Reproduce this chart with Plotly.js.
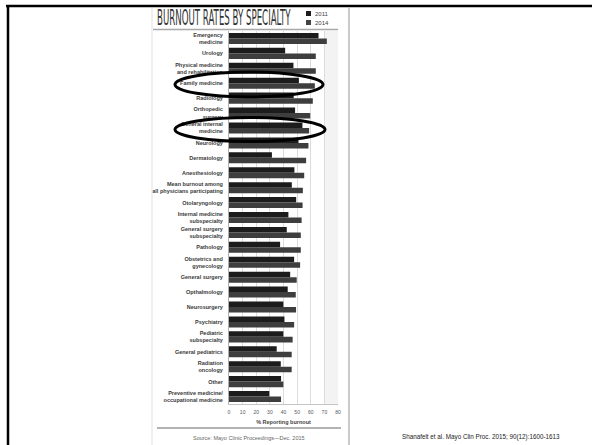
<!DOCTYPE html>
<html><head><meta charset="utf-8">
<script src="https://cdn.plot.ly/plotly-3.0.1.min.js"></script>
<style>html,body{margin:0;padding:0;background:#fff;overflow:hidden}#chart{width:592px;height:445px}</style>
</head><body><div id="chart"></div>
<script>
const categories = [
  "Emergency<br>medicine", "Urology", "Physical medicine<br>and rehabilitation", "Family medicine",
  "Radiology", "Orthopedic<br>surgery", "General internal<br>medicine", "Neurology", "Dermatology",
  "Anesthesiology", "Mean burnout among<br>all physicians participating", "Otolaryngology",
  "Internal medicine<br>subspecialty", "General surgery<br>subspecialty", "Pathology",
  "Obstetrics and<br>gynecology", "General surgery", "Opthalmology", "Neurosurgery", "Psychiatry",
  "Pediatric<br>subspecialty", "General pediatrics", "Radiation<br>oncology", "Other",
  "Preventive medicine/<br>occupational medicine"
];
const burnout2011 = [65.7, 41.2, 47.3, 51.3, 47.5, 48.5, 53.9, 51.0, 31.5, 48.0, 46.1, 49.3, 43.6, 42.4, 37.5, 47.8, 44.9, 43.1, 39.9, 40.7, 39.9, 35.0, 38.0, 38.2, 29.6];
const burnout2014 = [71.8, 63.7, 63.7, 63.0, 61.5, 59.6, 58.8, 58.3, 56.6, 55.2, 54.2, 54.0, 53.3, 52.7, 52.7, 52.2, 49.7, 49.0, 49.2, 47.8, 46.7, 46.0, 46.0, 39.9, 38.2];
const xTickValues = [0, 10, 20, 30, 40, 50, 60, 70, 80];
const seriesNames = ["2011", "2014"];

const W = 592, H = 445, L = 229, R = 254, T = 31, B = 41;
const pw = W - L - R, ph = H - T - B;
const px = x => (x - L) / pw;
const py = y => (H - B - y) / ph;
const labelFont = "Liberation Sans, Arial, sans-serif";

const traces = [
  {type: "bar", orientation: "h", name: seriesNames[0], y: categories, x: burnout2011,
   marker: {color: "#1c1c1c"}, hoverinfo: "x+y"},
  {type: "bar", orientation: "h", name: seriesNames[1], y: categories, x: burnout2014,
   marker: {color: "#3e3e3e"}, hoverinfo: "x+y"}
];

function line(x0, y0, x1, y1, color, width) {
  return {type: "line", xref: "paper", yref: "paper", x0: px(x0), y0: py(y0), x1: px(x1), y1: py(y1),
          line: {color: color, width: width}, layer: "above"};
}
function oval(cx, cy, rx, ry) {
  return {type: "circle", xref: "paper", yref: "paper", x0: px(cx - rx), x1: px(cx + rx),
          y0: py(cy + ry), y1: py(cy - ry), line: {color: "#000", width: 3}, layer: "above"};
}
function rect(x0, y0, x1, y1, color) {
  return {type: "rect", xref: "paper", yref: "paper", x0: px(x0), x1: px(x1), y0: py(y1), y1: py(y0),
          fillcolor: color, line: {width: 0}, layer: "above"};
}

const shapes = [
  {type: "rect", xref: "x", yref: "paper", x0: 70, x1: 80, y0: 0, y1: 1, fillcolor: "#f3f3f3", line: {width: 0}, layer: "below"},
  line(6, 6, 592, 6, "#000", 2.5),
  line(8, 5, 8, 445, "#000", 2.5),
  line(152, 8, 152, 445, "#e2e2e2", 1),
  line(349, 8, 349, 445, "#b8b8b8", 1.5),
  line(153, 29.5, 338, 29.5, "#a8a8a8", 1.5),
  line(157, 428, 341, 428, "#9a9a9a", 1.5),
  rect(306, 11, 311, 16, "#1c1c1c"),
  rect(306, 20, 311, 25, "#444"),
  oval(249, 84.5, 74, 12.5),
  oval(250, 129.5, 75, 12)
];

const annotations = [
  {xref: "paper", yref: "paper", x: px(155), y: py(17.5), xanchor: "left", yanchor: "middle", showarrow: false,
   text: "BURNOUT RATES BY SPECIALTY", font: {family: "Liberation Sans Narrow, DejaVu Sans Condensed, sans-serif", size: 20.5, color: "#333"}},
  {xref: "paper", yref: "paper", x: px(313), y: py(13.5), xanchor: "left", yanchor: "middle", showarrow: false,
   text: seriesNames[0], font: {family: labelFont, size: 6, color: "#444"}},
  {xref: "paper", yref: "paper", x: px(313), y: py(22.5), xanchor: "left", yanchor: "middle", showarrow: false,
   text: seriesNames[1], font: {family: labelFont, size: 6, color: "#444"}},
  {xref: "paper", yref: "paper", x: px(249), y: py(437.5), xanchor: "center", yanchor: "middle", showarrow: false,
   text: "Source: Mayo Clinic Proceedings\u2014Dec. 2015", font: {family: labelFont, size: 5.5, color: "#666"}},
  {xref: "paper", yref: "paper", x: px(400), y: py(437), xanchor: "left", yanchor: "middle", showarrow: false,
   text: "Shanafelt et al. Mayo Clin Proc. 2015; 90(12):1600-1613", font: {family: "Liberation Sans, Arial, sans-serif", size: 6.3, color: "#222"}}
];

const layout = {
  width: W, height: H, autosize: false,
  margin: {l: L, r: R, t: T, b: B, pad: 0},
  paper_bgcolor: "#fff", plot_bgcolor: "#fff",
  showlegend: false,
  barmode: "group", bargap: 0.26, bargroupgap: 0,
  xaxis: {range: [0, 80], tickvals: xTickValues, ticks: "", showgrid: true, gridcolor: "#dcdcdc", gridwidth: 1,
          zeroline: false, showline: true, linecolor: "#c4c4c4", linewidth: 1, fixedrange: true,
          ticklabelstandoff: 3,
          tickfont: {family: labelFont, size: 5, color: "#555"},
          title: {text: "% Reporting burnout", standoff: 6, font: {family: labelFont, size: 5.5, color: "#444", weight: "bold"}}},
  yaxis: {type: "category", autorange: "reversed", ticks: "", showgrid: false, zeroline: false,
          showline: true, linecolor: "#b0b0b0", linewidth: 1, fixedrange: true, ticklabelstandoff: 4,
          tickfont: {family: labelFont, size: 5.5, color: "#3a3a3a", weight: "bold"}},
  shapes: shapes,
  annotations: annotations
};

Plotly.newPlot("chart", traces, layout, {displayModeBar: false, staticPlot: true}).then(function () {
  const texts = document.querySelectorAll("#chart .annotation-text");
  texts.forEach(function (t) {
    if (t.textContent.indexOf("BURNOUT RATES") === 0) {
      const bb = t.getBBox();
      const target = 134;
      const s = target / bb.width;
      t.setAttribute("transform", "translate(" + (bb.x * (1 - s)) + ",0) scale(" + s + ",1)");
    }
  });
});
</script>
</body></html>
